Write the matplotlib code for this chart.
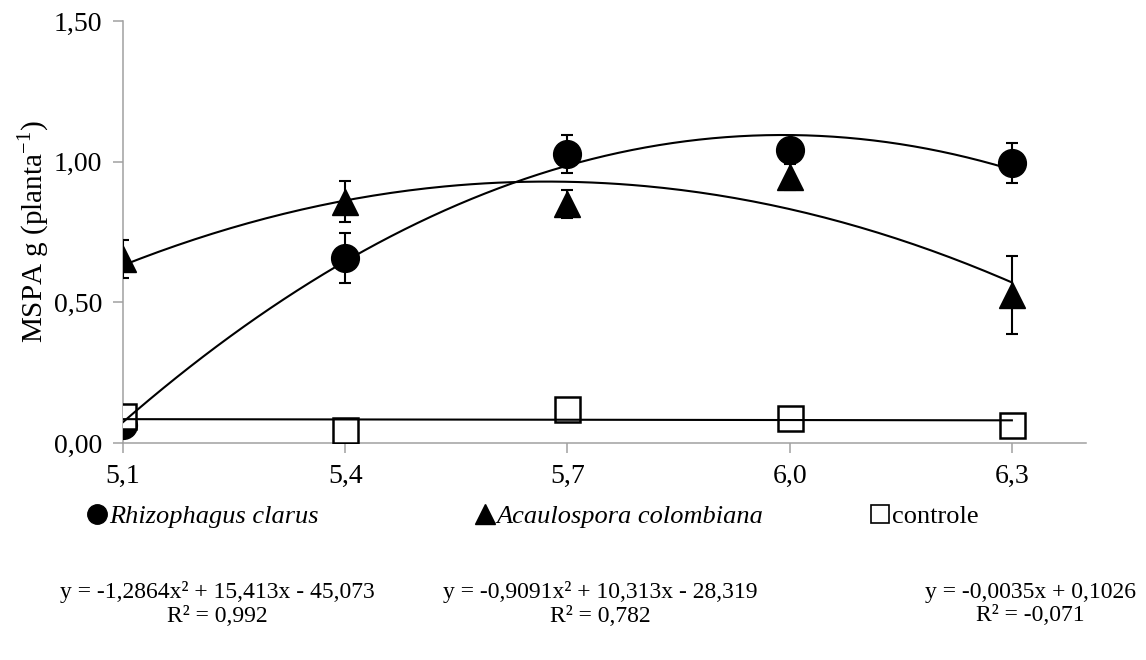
import numpy as np
import matplotlib
matplotlib.use("Agg")
import matplotlib.pyplot as plt

# pH do solo
ph = [5.1, 5.4, 5.7, 6.0, 6.3]

# MSPA medias e erros
rhizo = [0.063, 0.657, 1.027, 1.042, 0.995]
rhizo_err = [0.0, 0.09, 0.068, 0.03, 0.072]
acaulo = [0.655, 0.858, 0.848, 0.946, 0.526]
acaulo_err = [0.068, 0.072, 0.05, 0.045, 0.139]
controle = [0.096, 0.046, 0.12, 0.09, 0.064]

# coeficientes das linhas de tendencia (do grafico)
coef_rhizo = [-1.2864, 15.413, -45.073]
coef_acaulo = [-0.9091, 10.313, -28.319]
coef_controle = [-0.0035, 0.1026]

labels = ["Rhizophagus clarus", "Acaulospora colombiana", "controle"]
equacoes = ["y = -1,2864x² + 15,413x - 45,073\nR² = 0,992",
            "y = -0,9091x² + 10,313x - 28,319\nR² = 0,782",
            "y = -0,0035x + 0,1026\nR² = -0,071"]
yticks = [0.0, 0.5, 1.0, 1.5]
ytick_labels = ["0,00", "0,50", "1,00", "1,50"]
xtick_labels = ["5,1", "5,4", "5,7", "6,0", "6,3"]

plt.rcParams['font.family'] = ['Liberation Serif', 'DejaVu Sans']
plt.rcParams['mathtext.fontset'] = 'custom'
plt.rcParams['mathtext.rm'] = 'Liberation Serif'

fig = plt.figure(figsize=(11.46, 6.6), dpi=100)
ax = fig.add_axes([0.1073, 0.3288, 0.8403, 0.6394])

# series
ax.errorbar(ph, rhizo, yerr=rhizo_err, fmt='o', ms=20, color='black',
            ecolor='black', elinewidth=1.5, capsize=4, capthick=1.5, zorder=3)
ax.errorbar(ph, acaulo, yerr=acaulo_err, fmt='^', ms=19, color='black',
            ecolor='black', elinewidth=1.5, capsize=4, capthick=1.5, zorder=3)
ax.plot(ph, controle, 's', ms=18, mfc='white', mec='black', mew=1.8, zorder=4)

# linhas de tendencia
xx = np.linspace(ph[0], ph[-1], 200)
ax.plot(xx, np.polyval(coef_rhizo, xx), color='black', lw=1.5, zorder=5)
ax.plot(xx, np.polyval(coef_acaulo, xx), color='black', lw=1.5, zorder=5)
ax.plot(xx, np.polyval(coef_controle, xx), color='black', lw=1.5, zorder=5)

ax.set_xlim(5.1, 6.4)
ax.set_ylim(0, 1.5)
ax.set_xticks(ph)
ax.set_xticklabels(xtick_labels)
ax.set_yticks(yticks)
ax.set_yticklabels(ytick_labels)
ax.tick_params(labelsize=20, length=7, width=1.1, color='#a0a0a0', direction='out', pad=8)
for s in ['top', 'right']:
    ax.spines[s].set_visible(False)
for s in ['left', 'bottom']:
    ax.spines[s].set_color('#a0a0a0')
    ax.spines[s].set_linewidth(1.1)
ax.set_ylabel('MSPA g (planta$^{\\mathregular{-1}}$)', fontsize=21, labelpad=2)

# legenda (uma entrada por caixa, para acertar os espacos)
handles = [plt.Line2D([], [], ls='none', marker='o', ms=14, color='black'),
           plt.Line2D([], [], ls='none', marker='^', ms=14, color='black'),
           plt.Line2D([], [], ls='none', marker='s', ms=13, mfc='white', mec='black', mew=1.2)]
leg_x = [0.0768, 0.415, 0.760]
for h, lab, lx, k in zip(handles, labels, leg_x, range(3)):
    leg = fig.legend([h], [lab], loc='center left', bbox_to_anchor=(lx, 0.218),
                     frameon=False, fontsize=19, handlelength=0.7,
                     handletextpad=0.1, borderpad=0, borderaxespad=0)
    if k < 2:
        leg.get_texts()[0].set_style('italic')

xs = [0.19, 0.524, 0.899]
for x, eq in zip(xs, equacoes):
    fig.text(x, 0.085, eq, ha='center', va='center', fontsize=17, linespacing=1.15)

fig.savefig('out.png', dpi=100)
